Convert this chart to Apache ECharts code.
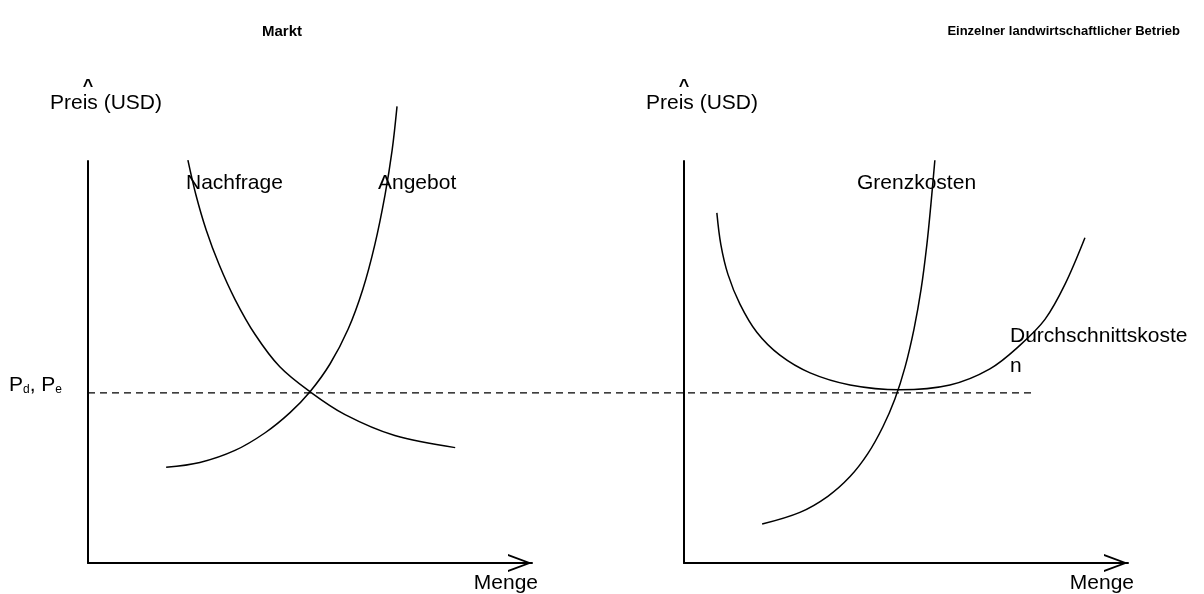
<!DOCTYPE html>
<html lang="de">
<head>
    <meta charset="UTF-8">
    <title>Markt und Betrieb</title>
    <style>
        body{ margin:0; background:#fff; }
        #main{ width:1204px; height:594px; }
    </style>
</head>
<body>
<div id="main"></div>
<script src="https://cdn.jsdelivr.net/npm/echarts@6/dist/echarts.min.js"></script>
<script>
    // Gleichgewichtspreis (Pd = Pe)
    var preisGG = 42.6;

    // Markt: Nachfrage und Angebot [Menge, Preis]
    var nachfrage = [[22.5,100.2],[24.3,91.6],[26.6,82.9],[29.5,74.3],[33.1,65.6],[37.6,56.9],[43.2,48.8],[50.0,42.6],[57.9,36.9],[69.1,31.7],[82.7,28.7]];
    var angebot = [[17.6,23.8],[25.2,25.0],[33.1,28.0],[39.9,32.4],[45.5,37.4],[50.0,42.6],[54.5,49.5],[58.6,58.2],[61.9,68.1],[64.6,79.2],[66.9,91.6],[68.5,102.7],[69.6,113.6]];

    // Betrieb: Grenzkosten und Durchschnittskosten [Menge, Preis]
    var grenzkosten = [[17.6,9.7],[26.1,12.6],[32.4,16.6],[37.4,21.5],[41.4,27.2],[44.8,33.9],[47.5,40.8],[49.8,48.8],[51.8,58.2],[53.4,68.1],[54.7,79.2],[55.6,89.1],[56.5,100.2]];
    var durchschnitt = [[7.4,87.1],[8.3,79.2],[9.9,71.8],[12.6,64.4],[16.4,57.4],[21.6,51.7],[28.4,47.3],[37.4,44.3],[48.6,43.1],[59.9,44.3],[68.9,48.3],[75.7,54.2],[81.3,60.6],[85.8,69.3],[90.3,80.9]];

    var schrift = 'Liberation Sans, Arial, sans-serif';
    var pfeil = 'path://M0,24 L9,0 L18,24 L15.9,24 L9,5 L2.1,24 Z';

    function xAchse(idx){
        return {
            gridIndex: idx, type: 'value', min: 0, max: 100,
            name: 'Menge', nameLocation: 'end', nameGap: 6,
            nameTextStyle: {color:'#000', fontFamily: schrift, fontSize: 21, align: 'right', verticalAlign: 'top', padding: [10,0,0,0]},
            axisLine: {show: true, lineStyle: {color:'#000', width: 2}, symbol: ['none', pfeil], symbolSize: [18, 24], symbolOffset: [0, -12]},
            axisTick: {show:false}, axisLabel: {show:false}, splitLine: {show:false}
        };
    }
    function yAchse(idx, pLabel){
        return {
            gridIndex: idx, type: 'value', min: 0, max: 100,
            name: '{c|^}\n{n|Preis (USD)}', nameLocation: 'end', nameGap: 45,
            nameTextStyle: {
                color:'#000', fontFamily: schrift, align: 'center', padding: [0,0,0,36],
                rich: {
                    c: {fontSize: 18, fontWeight: 'bold', lineHeight: 8, fontFamily: schrift, padding: [0,36,0,0]},
                    n: {fontSize: 21, lineHeight: 25, fontFamily: schrift}
                }
            },
            axisLine: {show: true, lineStyle: {color:'#000', width: 2}},
            axisTick: {show:false},
            axisLabel: pLabel ? {
                show: true, customValues: [preisGG], margin: 26, color: '#000',
                padding: [0,0,16,0],
                formatter: function(){ return '{p|P}{s|d}{p|, P}{s|e}'; },
                rich: {
                    p: {fontSize: 21, fontFamily: schrift, color:'#000', lineHeight: 24, verticalAlign: 'bottom'},
                    s: {fontSize: 12, fontFamily: schrift, color:'#000', lineHeight: 17, verticalAlign: 'bottom'}
                }
            } : {show:false},
            splitLine: {show:false}
        };
    }
    function kurve(name, daten, idx){
        return {
            name: name, type: 'line', xAxisIndex: idx, yAxisIndex: idx,
            data: daten, smooth: 0.35, showSymbol: false, clip: false, silent: true,
            lineStyle: {color:'#000', width: 1.5}
        };
    }

    var chart = echarts.init(document.getElementById('main'));
    chart.setOption({
        animation: false,
        backgroundColor: '#fff',
        title: [
            {text: 'Markt', left: 277, top: 19, textAlign: 'center', textStyle: {fontFamily: schrift, fontSize: 15, fontWeight: 'bold', color:'#000'}},
            {text: 'Einzelner landwirtschaftlicher Betrieb', right: 19, top: 20, textStyle: {fontFamily: schrift, fontSize: 13, fontWeight: 'bold', color:'#000'}}
        ],
        grid: [
            {left: 88, top: 161, width: 444, height: 404},
            {left: 684, top: 161, width: 444, height: 404},
            {left: 88, top: 161, width: 944, height: 404}
        ],
        xAxis: [xAchse(0), xAchse(1), {gridIndex: 2, type:'value', min:0, max:1, show:false}],
        yAxis: [yAchse(0, true), yAchse(1, false), {gridIndex: 2, type:'value', min:0, max:100, show:false}],
        series: [
            kurve('Nachfrage', nachfrage, 0),
            kurve('Angebot', angebot, 0),
            kurve('Grenzkosten', grenzkosten, 1),
            kurve('Durchschnittskosten', durchschnitt, 1),
            {
                name: 'Gleichgewicht', type: 'line', xAxisIndex: 2, yAxisIndex: 2,
                data: [[0, preisGG], [1, preisGG]], showSymbol: false, silent: true,
                lineStyle: {color:'#000', width: 1.3, type: [7, 5]}
            }
        ],
        graphic: [
            {type:'text', left: 186, top: 173, style: {text: 'Nachfrage', font: '21px ' + schrift, fill:'#000'}},
            {type:'text', left: 378, top: 173, style: {text: 'Angebot', font: '21px ' + schrift, fill:'#000'}},
            {type:'text', left: 857, top: 173, style: {text: 'Grenzkosten', font: '21px ' + schrift, fill:'#000'}},
            {type:'text', left: 1010, top: 321, style: {text: 'Durchschnittskoste\nn', font: '21px ' + schrift, lineHeight: 30, fill:'#000'}}
        ]
    });
</script>
</body>
</html>
